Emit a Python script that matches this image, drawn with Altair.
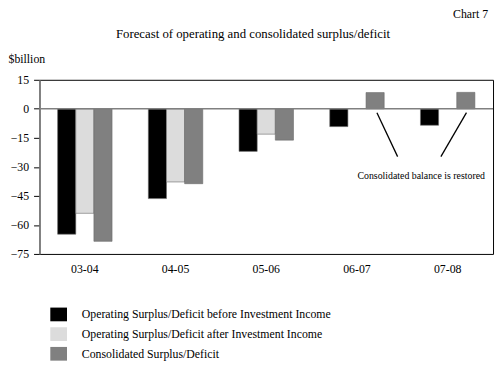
import altair as alt
import pandas as pd

years = ["03-04", "04-05", "05-06", "06-07", "07-08"]
series = [
    "Operating Surplus/Deficit before Investment Income",
    "Operating Surplus/Deficit after Investment Income",
    "Consolidated Surplus/Deficit",
]
before = [-64.8, -46.4, -22.0, -9.2, -8.5]
after = [-54.0, -37.8, -13.1, None, None]
consol = [-68.5, -38.7, -16.2, 8.4, 8.5]
colors = ["#000000", "#dcdcdc", "#808080"]
y_ticks = [15, 0, -15, -30, -45, -60, -75]

rows = []
for vals, s in zip([before, after, consol], series):
    for yr, v in zip(years, vals):
        if v is not None:
            rows.append({"year": yr, "series": s, "value": v})
df = pd.DataFrame(rows)

FONT = "Liberation Serif"

ysc = alt.Scale(domain=[-75, 15], nice=False, zero=False)
yax = alt.Axis(values=y_ticks, title="$billion", titleAngle=0,
               titleAlign="left", titleX=-32, titleY=-18,
               titleBaseline="alphabetic", titleFont=FONT,
               titleFontWeight="normal", titleFontSize=12,
               titleColor="black",
               domainColor="#808080", domainWidth=1.5,
               tickColor="black", tickSize=6, labelOverlap=False,
               labelPadding=5, grid=False, labelFont=FONT,
               labelFontSize=12, labelColor="black")

bars = alt.Chart(df).mark_bar(stroke="#6a6a6a", strokeWidth=0.6).encode(
    x=alt.X("year:N", sort=years,
            scale=alt.Scale(paddingInner=0.4, paddingOuter=0.2),
            axis=alt.Axis(title=None, labelAngle=0, domain=False, ticks=False,
                          labelPadding=10, labelFontSize=12, labelFont=FONT,
                          labelColor="black")),
    xOffset=alt.XOffset("series:N", sort=series,
                        scale=alt.Scale(domain=series, paddingInner=0, paddingOuter=0)),
    y=alt.Y("value:Q", scale=ysc, axis=yax),
    color=alt.Color("series:N", sort=series,
                    scale=alt.Scale(domain=series, range=colors),
                    legend=alt.Legend(title=None, orient="none", legendX=11, legendY=230,
                                      symbolType="M-1,-0.82H1V0.82H-1Z", symbolSize=289,
                                      symbolStrokeWidth=0, labelFont=FONT, labelFontSize=12,
                                      labelOffset=15, rowPadding=4, labelLimit=400,
                                      direction="vertical", labelColor="black")),
)

zero = alt.Chart(pd.DataFrame({"value": [0]})).mark_rule(color="#808080", strokeWidth=1.5).encode(
    y=alt.Y("value:Q", scale=ysc, axis=yax)
)

line1 = alt.Chart().mark_rule(color="black", strokeWidth=1.3).encode(
    x=alt.value(343), x2=alt.value(364),
    y=alt.Y(datum=-2, scale=ysc, axis=yax), y2=alt.datum(-24.7)
)
line2 = alt.Chart().mark_rule(color="black", strokeWidth=1.3).encode(
    x=alt.value(434), x2=alt.value(408),
    y=alt.Y(datum=-2, scale=ysc, axis=yax), y2=alt.datum(-24.7)
)
note = alt.Chart().mark_text(text="Consolidated balance is restored", font=FONT,
                             fontSize=10, baseline="middle", align="center",
                             color="black").encode(
    x=alt.value(388), y=alt.Y(datum=-34.5, scale=ysc, axis=yax)
)
chart_no = alt.Chart().mark_text(text="Chart 7", font=FONT, fontSize=12, align="right",
                                 baseline="middle", color="black").encode(
    x=alt.value(456), y=alt.value(-67)
)
title = alt.Chart().mark_text(text="Forecast of operating and consolidated surplus/deficit",
                              font=FONT, fontSize=13, align="center", baseline="middle",
                              color="black").encode(
    x=alt.value(217), y=alt.value(-46)
)

chart = alt.layer(bars, zero, line1, line2, note, chart_no, title).properties(
    width=461, height=177,
    autosize=alt.AutoSizeParams(type="none"),
    padding={"left": 32, "top": 70, "right": 2, "bottom": 115},
).configure_view(stroke="black", strokeWidth=1).configure_axisY(labelOverlap=False)

chart.save("out.html", embed_options={"renderer": "svg", "actions": False})
